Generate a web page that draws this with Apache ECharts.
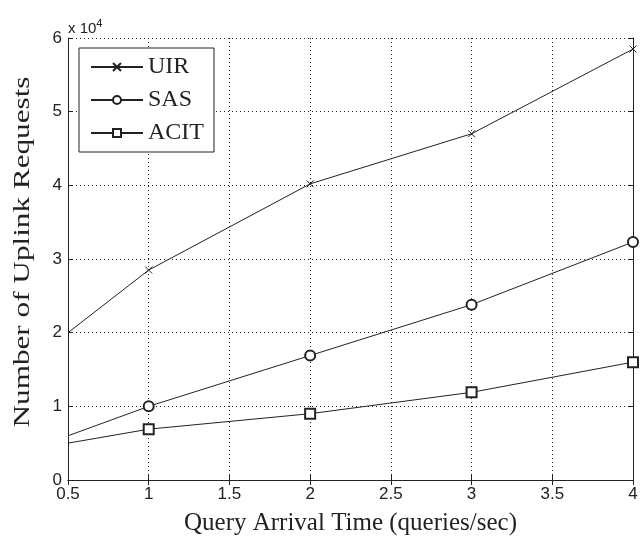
<!DOCTYPE html>
<html><head><meta charset="utf-8">
<script src="https://cdn.jsdelivr.net/npm/echarts@6/dist/echarts.min.js"></script>
<style>html,body{margin:0;padding:0;background:#fff}#c{width:643px;height:541px}</style>
</head><body><div id="c"></div>
<script>
const xValues = [0.5, 1, 2, 3, 4];
const uir = [20000, 28500, 40200, 47000, 58500];
const sas = [6000, 10000, 16900, 23800, 32300];
const acit = [5000, 6900, 9000, 11900, 16000];
const seriesNames = ['UIR', 'SAS', 'ACIT'];
const yTicks = [0, 1, 2, 3, 4, 5, 6];

const chart = echarts.init(document.getElementById('c'));
const ink = '#222';
const crossPath = 'path://M0,0L10,10M10,0L0,10';
function mk(vals) {
  return xValues.map((x, i) => i === 0 ? {value: [x, vals[i]], symbol: 'none'} : {value: [x, vals[i]]});
}
const symbols = [crossPath, 'emptyCircle', 'emptyRect'];
const sizes = [7, 10, 10];
const datasets = [uir, sas, acit];
const axisCommon = {
  axisLine: {show: true, lineStyle: {color: ink, width: 1}},
  axisTick: {show: true, inside: true, length: 5, lineStyle: {color: ink}},
};
chart.setOption({
  animation: false,
  backgroundColor: '#fff',
  grid: {left: 68, right: 10, top: 38, bottom: 61, containLabel: false},
  graphic: [{
    type: 'text', left: 68, top: 18,
    style: {rich: {a: {fontFamily: 'Liberation Sans', fontSize: 15, fill: ink}, s: {fontFamily: 'Liberation Sans', fontSize: 11, fill: ink, verticalAlign: 'top', padding: [0,0,10,0]}},
      text: '{a|x 10}{s|4}'}
  }, {
    type: 'text', x: 23, y: 252, rotation: Math.PI / 2, scaleX: 1.3,
    style: {text: 'Number of Uplink Requests', fontFamily: 'Liberation Serif', fontSize: 24, fill: ink, align: 'center', verticalAlign: 'middle'}
  }],
  legend: {
    orient: 'vertical', left: 79, top: 48,
    backgroundColor: '#fff', borderColor: ink, borderWidth: 1, borderRadius: 0,
    padding: [7, 10, 7, 11], itemGap: 9, itemWidth: 52, itemHeight: 10,
    textStyle: {fontFamily: 'Liberation Serif', fontSize: 24, color: ink},
    data: seriesNames
  },
  xAxis: [{
    type: 'value', min: 0.5, max: 4, interval: 0.5, position: 'bottom',
    ...axisCommon,
    axisLabel: {color: ink, fontFamily: 'Liberation Sans', fontSize: 17, margin: 6,
      formatter: v => String(Math.round(v*10)/10)},
    splitLine: {show: true, lineStyle: {color: ink, type: [1, 3], width: 1}},
    name: 'Query Arrival Time (queries/sec)', nameLocation: 'middle', nameGap: 31,
    nameTextStyle: {fontFamily: 'Liberation Serif', fontSize: 25, color: ink}
  }, {
    type: 'value', min: 0.5, max: 4, interval: 0.5, position: 'top',
    ...axisCommon, axisLabel: {show: false}, splitLine: {show: false}
  }],
  yAxis: [{
    type: 'value', min: 0, max: 60000, interval: 10000, position: 'left',
    ...axisCommon,
    axisLabel: {color: ink, fontFamily: 'Liberation Sans', fontSize: 17, margin: 6,
      formatter: v => String(yTicks[Math.round(v/10000)])},
    splitLine: {show: true, lineStyle: {color: ink, type: [1, 3], width: 1}}
  }, {
    type: 'value', min: 0, max: 60000, interval: 10000, position: 'right',
    ...axisCommon, axisLabel: {show: false}, splitLine: {show: false}
  }],
  series: seriesNames.map((n, i) => ({
    name: n, type: 'line', xAxisIndex: 0, yAxisIndex: 0,
    data: mk(datasets[i]),
    symbol: symbols[i], symbolSize: sizes[i], showAllSymbol: true,
    lineStyle: {color: ink, width: 1},
    itemStyle: {color: ink, borderColor: ink, borderWidth: 1},
    clip: false
  }))
});
</script></body></html>
